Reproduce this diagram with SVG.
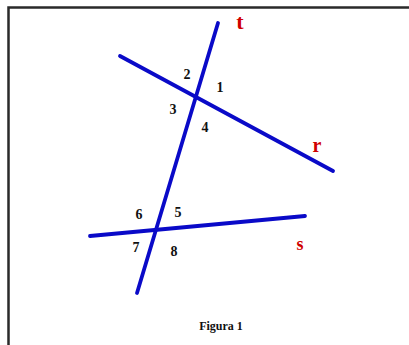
<svg xmlns="http://www.w3.org/2000/svg" width="409" height="345" viewBox="0 0 409 345">
<style>
.ln{stroke:#0a0ac8;stroke-width:3.8;stroke-linecap:round;fill:none}
.num{font-family:"Liberation Serif",serif;font-weight:bold;font-size:14px;fill:#111;text-anchor:middle}
.lab{font-family:"Liberation Serif",serif;font-weight:bold;fill:#d00000;text-anchor:middle}
</style>
<rect width="409" height="345" fill="#fff"/>
<path d="M8.5,345 V7.5 H409" fill="none" stroke="#2a2a2a" stroke-width="2.5"/>
<g id="connectors">
<line id="line-t" class="ln" x1="218" y1="23" x2="137" y2="293"/>
<line id="line-r" class="ln" x1="120" y1="56" x2="333" y2="171"/>
<line id="line-s" class="ln" x1="90" y1="236" x2="305" y2="216"/>
</g>
<g id="label-t"><text class="lab" x="240" y="29" font-size="22">t</text></g>
<g id="label-r"><text class="lab" x="317" y="152" font-size="20">r</text></g>
<g id="label-s"><text class="lab" x="300" y="250" font-size="18">s</text></g>
<g id="angles">
<text class="num" x="187" y="79">2</text>
<text class="num" x="220" y="92">1</text>
<text class="num" x="173" y="114">3</text>
<text class="num" x="205" y="132">4</text>
<text class="num" x="139" y="219">6</text>
<text class="num" x="178" y="217">5</text>
<text class="num" x="136" y="252">7</text>
<text class="num" x="174" y="256">8</text>
</g>
<g id="caption"><text x="221" y="330" font-family="'Liberation Serif',serif" font-weight="bold" font-size="12" fill="#111" text-anchor="middle">Figura 1</text></g>
</svg>
